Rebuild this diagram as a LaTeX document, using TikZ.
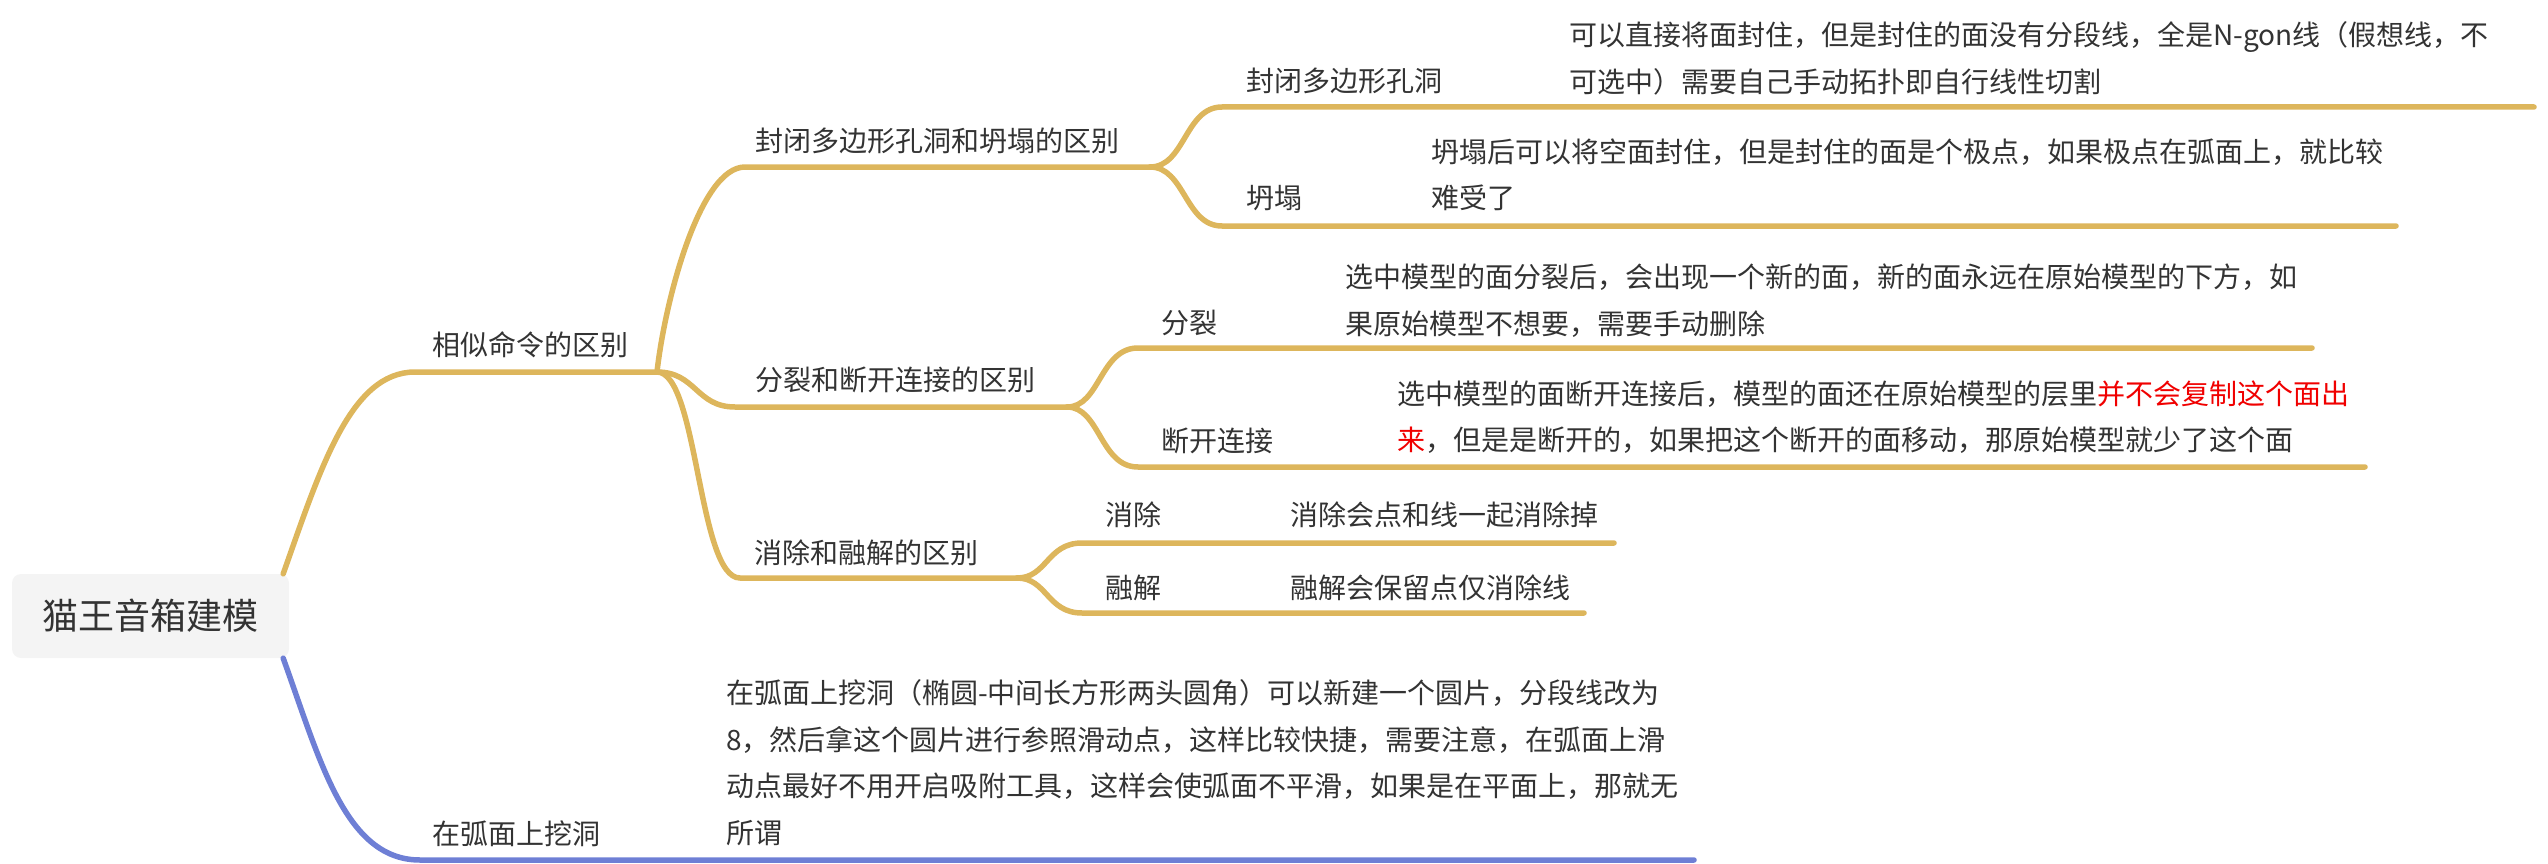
\documentclass[tikz,border=0pt]{standalone}
\usepackage{fontspec}
\setmainfont{Noto Sans CJK SC}
\definecolor{ylw}{HTML}{DDB65C}
\definecolor{blu}{HTML}{6E7FD5}
\definecolor{txt}{HTML}{333333}
\definecolor{rootbg}{HTML}{F4F4F4}
\definecolor{redt}{HTML}{F00000}
\begin{document}
\begin{tikzpicture}[x=1pt,y=-1pt,
  lbl/.style={anchor=base west, inner sep=0pt, text=txt, font=\fontsize{28}{46.5}\selectfont},
  rootbox/.style={fill=rootbg, rounded corners=9pt, minimum width=277pt, minimum height=84pt, inner sep=0pt, text=txt, font=\fontsize{36}{40}\selectfont},
  yl/.style={draw=ylw, line width=5.5pt, line cap=round},
  bl/.style={draw=blu, line width=5.5pt, line cap=round},
]
\useasboundingbox (0,0) rectangle (2548,864);

% junctions and line ends
\coordinate (j0) at (657,372);
\coordinate (j1) at (1150,167);
\coordinate (j2) at (1067,407);
\coordinate (j3) at (1017,578);
\coordinate (e11) at (2534,107);
\coordinate (e12) at (2396,226);
\coordinate (e21) at (2312,348);
\coordinate (e22) at (2365,467);
\coordinate (e31) at (1614,543);
\coordinate (e32) at (1584,613);
\coordinate (e4) at (1694,860);

% connectors
\node[rootbox] (root) at (150.5,616) {猫王音箱建模};
\draw[yl] ([xshift=-6pt]root.north east) .. controls (320,470) and (350,372) .. (415,372) -- (j0);
\draw[yl] (j0) .. controls (665,300) and (700,167) .. (745,167) -- (j1);
\draw[yl] (j0) .. controls (696,372) and (696,407) .. (735,407) -- (j2);
\draw[yl] (j0) .. controls (698,372) and (698,578) .. (740,578) -- (j3);
\draw[yl] (j1) .. controls (1185,167) and (1185,107) .. (1222,107) -- (e11);
\draw[yl] (j1) .. controls (1185,167) and (1185,226) .. (1222,226) -- (e12);
\draw[yl] (j2) .. controls (1100,407) and (1100,348) .. (1138,348) -- (e21);
\draw[yl] (j2) .. controls (1100,407) and (1100,467) .. (1138,467) -- (e22);
\draw[yl] (j3) .. controls (1047,578) and (1047,543) .. (1082,543) -- (e31);
\draw[yl] (j3) .. controls (1047,578) and (1047,613) .. (1082,613) -- (e32);
\draw[bl] ([xshift=-6pt]root.south east) .. controls (320,760) and (345,860) .. (420,860) -- (e4);

% labels
\node[lbl] (l1) at (432,355.5) {相似命令的区别};
\node[lbl] (l11) at (755,151.5) {封闭多边形孔洞和坍塌的区别};
\node[lbl] (l12) at (755,390.5) {分裂和断开连接的区别};
\node[lbl] (l13) at (754,563.5) {消除和融解的区别};
\node[lbl] (a1) at (1246,91.5) {封闭多边形孔洞};
\node[lbl] (a2) at (1246,208.5) {坍塌};
\node[lbl] (b1) at (1161,333.5) {分裂};
\node[lbl] (b2) at (1161,451) {断开连接};
\node[lbl] (c1) at (1105,525.5) {消除};
\node[lbl] (c2) at (1105,598.5) {融解};
\node[lbl] (l2) at (432,844.5) {在弧面上挖洞};

% descriptions
\node[lbl] (da1) at (1569,46) {\vtop{\hbox{可以直接将面封住，但是封住的面没有分段线，全是N-gon线（假想线，不}\hbox{可选中）需要自己手动拓扑即自行线性切割}}};
\node[lbl] (da2) at (1431,162.5) {\vtop{\hbox{坍塌后可以将空面封住，但是封住的面是个极点，如果极点在弧面上，就比较}\hbox{难受了}}};
\node[lbl] (db1) at (1345,287.5) {\vtop{\hbox{选中模型的面分裂后，会出现一个新的面，新的面永远在原始模型的下方，如}\hbox{果原始模型不想要，需要手动删除}}};
\node[lbl] (db2) at (1397,404) {\vtop{\hbox{选中模型的面断开连接后，模型的面还在原始模型的层里{\color{redt}并不会复制这个面出}}\hbox{{\color{redt}来}，但是是断开的，如果把这个断开的面移动，那原始模型就少了这个面}}};
\node[lbl] (dc1) at (1290,525.5) {消除会点和线一起消除掉};
\node[lbl] (dc2) at (1290,598.5) {融解会保留点仅消除线};
\node[lbl] (d2) at (726,703.5) {\vtop{\hbox{在弧面上挖洞（椭圆-中间长方形两头圆角）可以新建一个圆片，分段线改为}\hbox{8，然后拿这个圆片进行参照滑动点，这样比较快捷，需要注意，在弧面上滑}\hbox{动点最好不用开启吸附工具，这样会使弧面不平滑，如果是在平面上，那就无}\hbox{所谓}}};
\end{tikzpicture}
\end{document}
